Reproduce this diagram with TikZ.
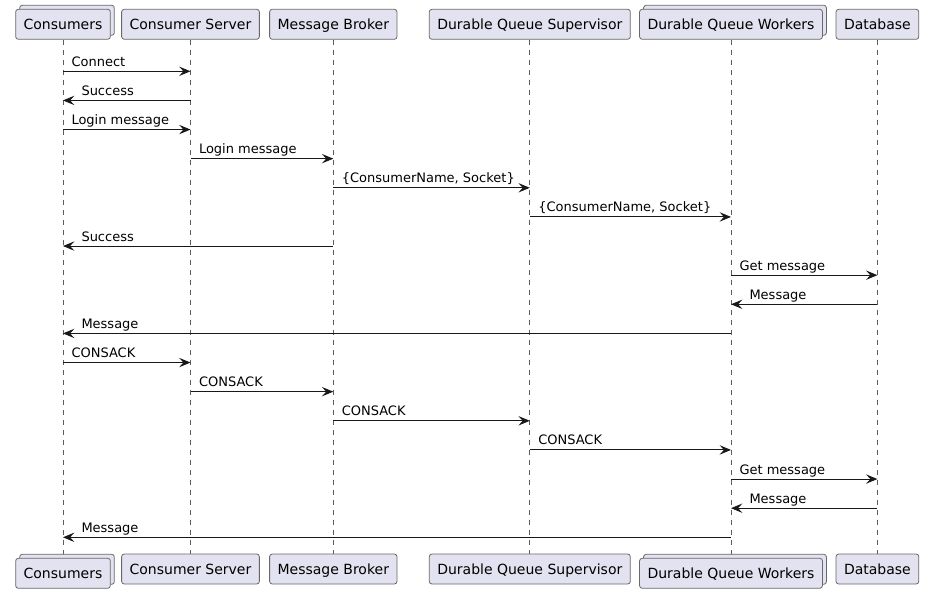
\documentclass[tikz,border=0pt]{standalone}
\usepackage{fontspec}
\setmainfont{DejaVu Sans}
\usepackage{xcolor}
\usepackage{tikz}
\usetikzlibrary{arrows.meta, shadows, backgrounds}

\definecolor{partfill}{HTML}{E2E2F0}
\definecolor{lineclr}{HTML}{181818}

\begin{document}
\begin{tikzpicture}[
    x=0.75pt, y=-0.75pt,
    part/.style={rectangle, draw=lineclr!65, line width=0.6pt, fill=partfill, rounded corners=2pt,
        minimum height=22.5pt, inner xsep=6pt, text height=8.4pt, text depth=0pt,
        font=\fontsize{10.5}{12}\selectfont},
    stacked/.style={part, copy shadow={shadow xshift=3pt, shadow yshift=3pt, draw=lineclr!65, fill=partfill}},
    life/.style={draw=lineclr!70, line width=0.5pt, dash pattern=on 3.75pt off 3.75pt},
    msg/.style={draw=lineclr, line width=0.75pt, -{Stealth[length=8.5pt, width=7pt, inset=3.2pt]}},
    lbl/.style={anchor=base west, yshift=3.75pt, inner sep=0pt, font=\fontsize{9.75}{11}\selectfont},
    lblR/.style={lbl, at start, xshift=6pt},
    lblL/.style={lbl, at end, xshift=13.5pt}
]
\useasboundingbox (0,0) rectangle (930,598);

% participants, top row
\node[stacked] (cons) at (63,24.3) {Consumers};
\node[part] (srv) at (190.5,24.3) {Consumer Server};
\node[part] (brk) at (333.3,24.3) {Message Broker};
\node[part] (sup) at (529.8,24.3) {Durable Queue Supervisor};
\node[stacked] (wrk) at (731,24.3) {Durable Queue Workers};
\node[part] (db) at (877.4,24.3) {Database};

% participants, bottom row
\node[stacked] (cons-b) at (63,573.3) {Consumers};
\node[part] (srv-b) at (190.5,569) {Consumer Server};
\node[part] (brk-b) at (333.3,569) {Message Broker};
\node[part] (sup-b) at (529.8,569) {Durable Queue Supervisor};
\node[stacked] (wrk-b) at (731,573.3) {Durable Queue Workers};
\node[part] (db-b) at (877.4,569) {Database};

% lifelines
\begin{scope}[on background layer]
\foreach \p in {cons,srv,brk,sup,wrk,db}
    \draw[life] (\p.south) -- (\p-b.north);
\end{scope}

% messages
\foreach \a/\b/\s/\t [count=\i] in {
    cons/srv/R/Connect,
    srv/cons/L/Success,
    cons/srv/R/Login message,
    srv/brk/R/Login message,
    brk/sup/R/{\{ConsumerName, Socket\}},
    sup/wrk/R/{\{ConsumerName, Socket\}},
    brk/cons/L/Success,
    wrk/db/R/Get message,
    db/wrk/L/Message,
    wrk/cons/L/Message,
    cons/srv/R/CONSACK,
    srv/brk/R/CONSACK,
    brk/sup/R/CONSACK,
    sup/wrk/R/CONSACK,
    wrk/db/R/Get message,
    db/wrk/L/Message,
    wrk/cons/L/Message}
{
    \pgfmathsetmacro\y{71.3+29.125*(\i-1)}
    \coordinate (r\i) at (0,\y);
    \draw[msg] (\a |- r\i) -- (\b |- r\i) node[lbl\s] {\t};
}

\end{tikzpicture}
\end{document}
